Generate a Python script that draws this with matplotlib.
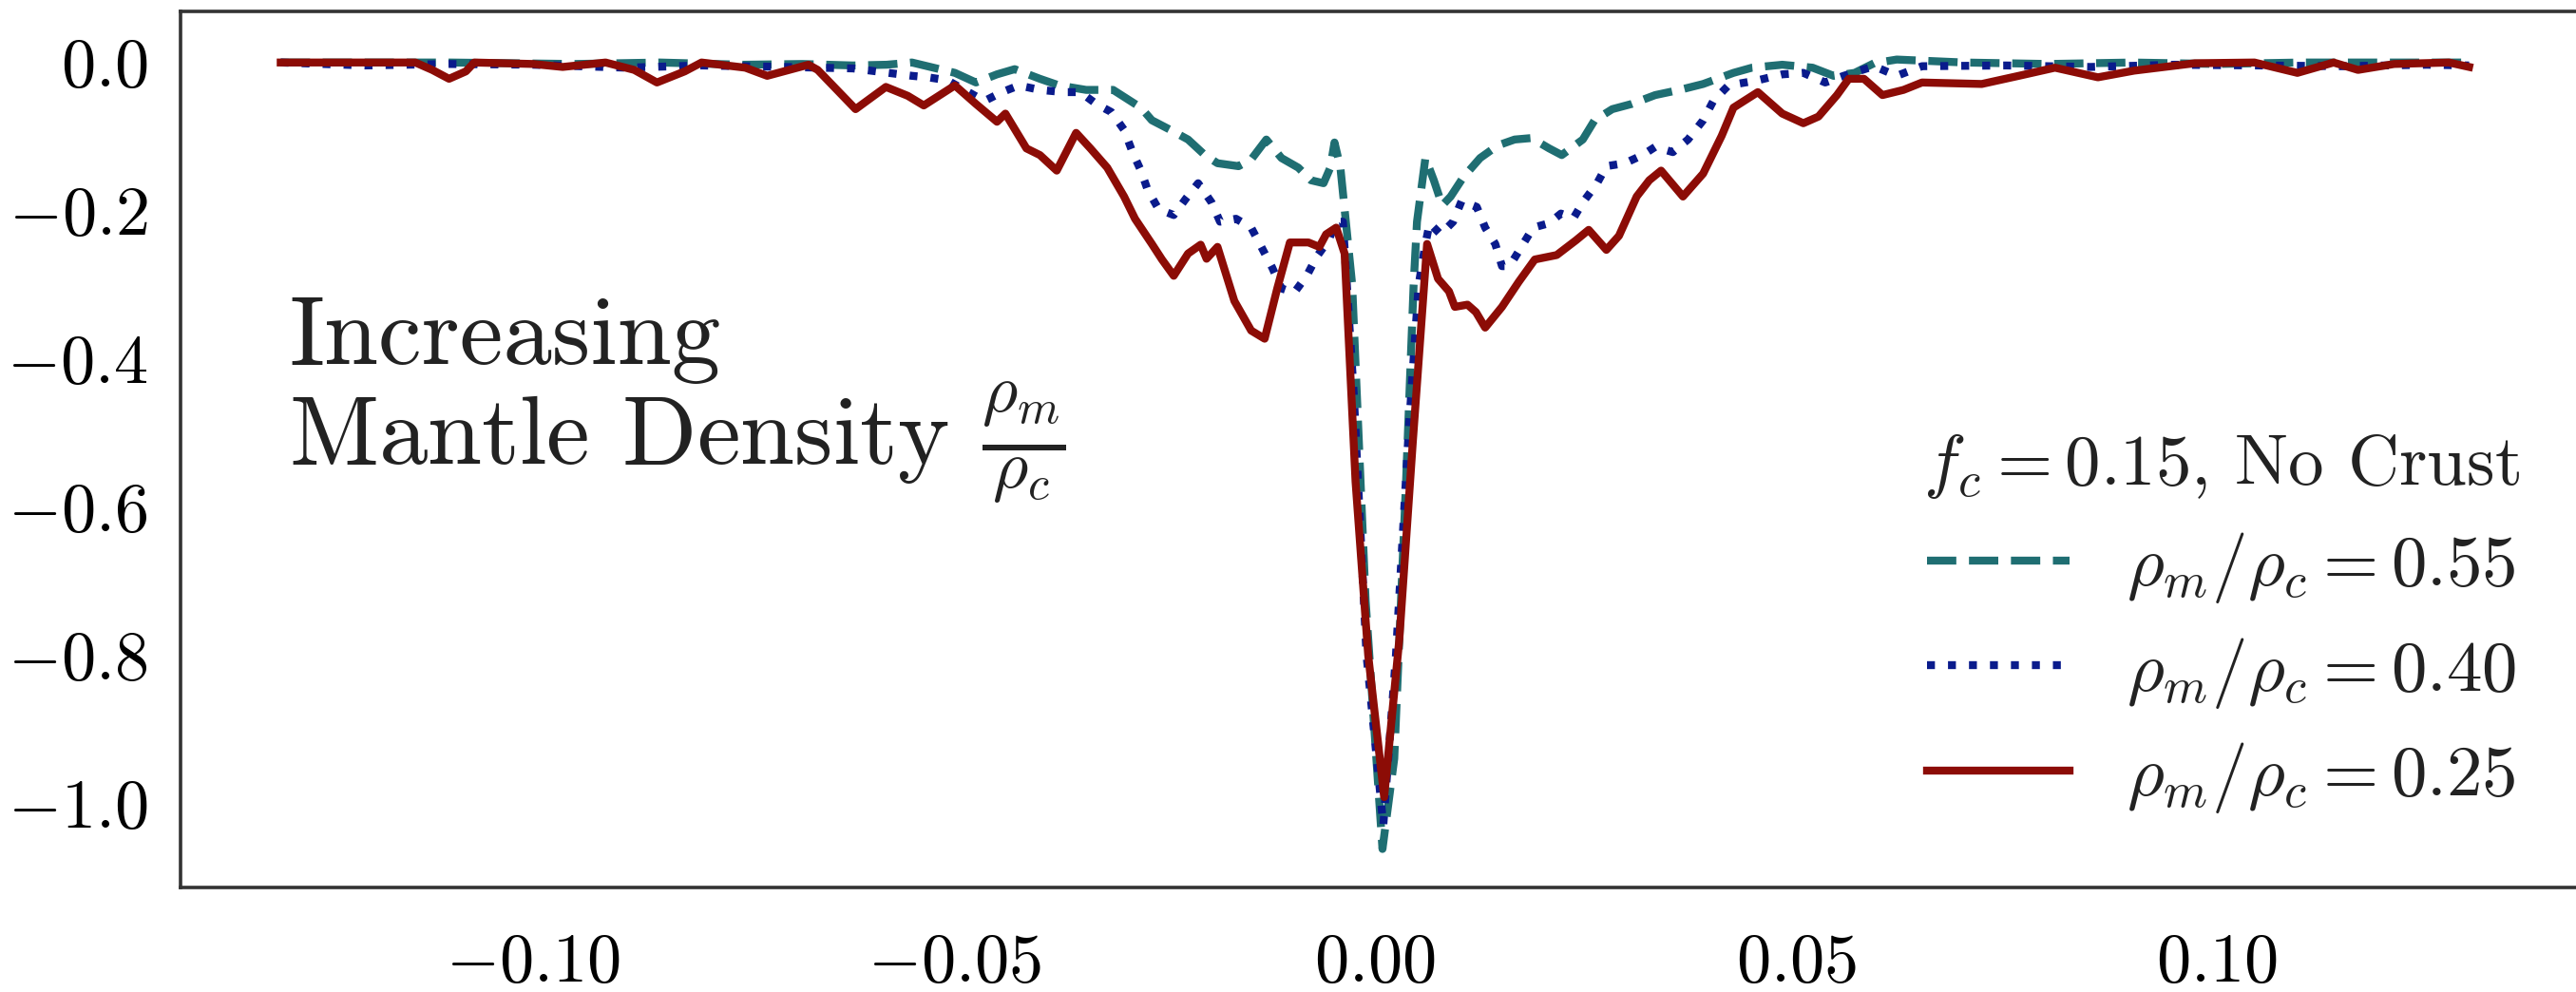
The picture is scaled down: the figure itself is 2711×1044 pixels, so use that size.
import matplotlib
matplotlib.use("Agg")
import matplotlib.pyplot as plt
from matplotlib import rcParams

config = {
    "font.family": "serif",
    "font.serif": ["cmr10"],
    "mathtext.fontset": "cm",
    "axes.formatter.use_mathtext": True,
    "axes.unicode_minus": True,
}
rcParams.update(config)

# rho_m / rho_c = 0.55 (dashed)
x_055 = [-0.130, -0.110, -0.095, -0.085, -0.075, -0.068, -0.062, -0.058, -0.055, -0.0499,
         -0.0474, -0.0449, -0.0428, -0.0398, -0.0375, -0.0343, -0.0311, -0.0278, -0.0265, -0.0243,
         -0.0222, -0.0202, -0.0187, -0.0162, -0.0147, -0.0129, -0.0111, -0.0091, -0.0076, -0.0061,
         -0.0053, -0.0048, -0.0041, -0.0036, -0.0027, -0.0011, 0.0009, 0.0023, 0.0037, 0.0046,
         0.0050, 0.0060, 0.0070, 0.0080, 0.0090, 0.0105, 0.0125, 0.0146, 0.0166, 0.0186,
         0.0207, 0.0222, 0.0247, 0.0261, 0.0282, 0.0305, 0.0333, 0.0362, 0.0390, 0.0426,
         0.0448, 0.0484, 0.0520, 0.0545, 0.0570, 0.0593, 0.0620, 0.0700, 0.0800, 0.0900,
         0.1000, 0.1100, 0.1200, 0.1300]
y_055 = [0.0, 0.0, -0.002, 0.0, -0.003, -0.002, -0.004, -0.003, 0.0, -0.014,
         -0.027, -0.016, -0.009, -0.022, -0.031, -0.037, -0.037, -0.061, -0.078, -0.091,
         -0.104, -0.125, -0.136, -0.140, -0.131, -0.104, -0.129, -0.142, -0.159, -0.163,
         -0.142, -0.108, -0.142, -0.198, -0.300, -0.727, -1.062, -0.940, -0.566, -0.300,
         -0.215, -0.129, -0.159, -0.193, -0.181, -0.155, -0.129, -0.112, -0.104, -0.102,
         -0.116, -0.125, -0.104, -0.078, -0.063, -0.056, -0.044, -0.037, -0.029, -0.014,
         -0.007, -0.003, -0.007, -0.018, -0.014, -0.001, 0.004, 0.0, -0.002, 0.0,
         -0.002, 0.0, 0.0, 0.0]

# rho_m / rho_c = 0.40 (dotted)
x_040 = [-0.130, -0.120, -0.110, -0.100, -0.089, -0.080, -0.070, -0.062, -0.055, -0.0531,
         -0.0508, -0.0464, -0.0443, -0.0423, -0.0398, -0.0370, -0.0350, -0.0331, -0.0313, -0.0298,
         -0.0288, -0.0278, -0.0270, -0.0257, -0.0239, -0.0224, -0.0210, -0.0194, -0.0184, -0.0165,
         -0.0147, -0.0134, -0.0122, -0.0111, -0.0096, -0.0081, -0.0069, -0.0055, -0.0046, -0.0038,
         -0.0025, -0.0010, 0.0010, 0.0025, 0.0040, 0.0052, 0.0060, 0.0065, 0.0078, 0.0093,
         0.0103, 0.0121, 0.0131, 0.0143, 0.0151, 0.0160, 0.0174, 0.0188, 0.0207, 0.0221,
         0.0236, 0.0247, 0.0264, 0.0275, 0.0297, 0.0318, 0.0333, 0.0354, 0.0372, 0.0390,
         0.0402, 0.0420, 0.0455, 0.0484, 0.0509, 0.0535, 0.0557, 0.0593, 0.0620, 0.0650,
         0.0750, 0.0850, 0.0950, 0.1050, 0.1150, 0.1250, 0.1300]
y_040 = [0.0, -0.004, -0.002, -0.003, -0.007, -0.004, -0.006, -0.008, -0.018, -0.020,
         -0.024, -0.052, -0.040, -0.031, -0.037, -0.040, -0.040, -0.056, -0.067, -0.091,
         -0.121, -0.146, -0.172, -0.198, -0.206, -0.183, -0.163, -0.189, -0.215, -0.211,
         -0.223, -0.251, -0.277, -0.305, -0.311, -0.288, -0.262, -0.240, -0.215, -0.215,
         -0.450, -0.800, -1.030, -0.800, -0.500, -0.300, -0.245, -0.217, -0.232, -0.215,
         -0.187, -0.195, -0.223, -0.245, -0.275, -0.275, -0.249, -0.223, -0.217, -0.204,
         -0.210, -0.189, -0.163, -0.140, -0.136, -0.125, -0.114, -0.121, -0.104, -0.078,
         -0.052, -0.031, -0.024, -0.016, -0.014, -0.027, -0.018, -0.005, -0.018, -0.005,
         -0.004, -0.006, -0.003, -0.004, -0.005, -0.003, -0.004]

# rho_m / rho_c = 0.25 (solid)
x_025 = [-0.130, -0.120, -0.114, -0.112, -0.110, -0.108, -0.107, -0.100, -0.0965, -0.0914,
         -0.088, -0.0853, -0.082, -0.080, -0.0748, -0.0722, -0.0673, -0.0662, -0.0617, -0.0581,
         -0.0555, -0.0536, -0.0499, -0.0474, -0.0449, -0.0439, -0.0414, -0.0398, -0.0378, -0.0355,
         -0.0338, -0.0318, -0.0298, -0.0285, -0.0265, -0.0253, -0.0239, -0.0222, -0.0207, -0.0200,
         -0.0187, -0.0167, -0.0147, -0.0131, -0.0116, -0.0101, -0.0079, -0.0066, -0.0058, -0.0046,
         -0.0036, -0.0023, -0.0008, 0.0011, 0.0029, 0.0045, 0.0062, 0.0075, 0.0088, 0.0095,
         0.0110, 0.0120, 0.0131, 0.0151, 0.0171, 0.0190, 0.0216, 0.0239, 0.0254, 0.0275,
         0.0290, 0.0311, 0.0326, 0.0340, 0.0366, 0.0390, 0.0412, 0.0426, 0.0455, 0.0484,
         0.0509, 0.0527, 0.0549, 0.0563, 0.0581, 0.0603, 0.0628, 0.0650, 0.0721, 0.0765,
         0.0808, 0.0859, 0.0902, 0.0974, 0.1045, 0.1096, 0.1139, 0.1168, 0.1211, 0.1276,
         0.1300]
y_025 = [0.0, 0.0, 0.0, -0.010, -0.022, -0.012, 0.0, -0.002, -0.006, 0.0,
         -0.010, -0.027, -0.012, 0.0, -0.007, -0.018, -0.003, -0.010, -0.063, -0.033,
         -0.045, -0.058, -0.031, -0.056, -0.080, -0.069, -0.116, -0.125, -0.146, -0.095,
         -0.116, -0.142, -0.181, -0.211, -0.245, -0.266, -0.288, -0.258, -0.246, -0.265,
         -0.249, -0.322, -0.362, -0.373, -0.305, -0.243, -0.243, -0.249, -0.232, -0.223,
         -0.258, -0.566, -0.800, -0.992, -0.779, -0.513, -0.245, -0.292, -0.309, -0.330,
         -0.327, -0.337, -0.358, -0.330, -0.296, -0.266, -0.260, -0.240, -0.226, -0.253,
         -0.234, -0.181, -0.159, -0.146, -0.181, -0.150, -0.099, -0.061, -0.040, -0.069,
         -0.082, -0.073, -0.044, -0.022, -0.022, -0.044, -0.037, -0.027, -0.029, -0.018,
         -0.007, -0.020, -0.011, -0.001, 0.0, -0.014, 0.0, -0.010, -0.002, 0.0,
         -0.006]

labels = [r"$\rho_m/\rho_c = 0.55$", r"$\rho_m/\rho_c = 0.40$", r"$\rho_m/\rho_c = 0.25$"]
c_teal = "#1f6e72"
c_navy = "#0a1b8c"
c_red = "#8c0c06"
line_width = 6

fig = plt.figure(figsize=(27.11, 10.44), dpi=100)
ax = fig.add_axes([190 / 2711, 110 / 1044, 2521 / 2711, 922 / 1044])

ax.plot(x_055, y_055, color=c_teal, linestyle="--", linewidth=line_width, label=labels[0])
ax.plot(x_040, y_040, color=c_navy, linestyle=":", linewidth=line_width, label=labels[1])
ax.plot(x_025, y_025, color=c_red, linestyle="-", linewidth=line_width, label=labels[2])

ax.set_xlim(-0.1419, 0.1427)
ax.set_ylim(-1.114, 0.069)
ax.set_xticks([-0.10, -0.05, 0.00, 0.05, 0.10])
ax.set_yticks([0.0, -0.2, -0.4, -0.6, -0.8, -1.0])
ax.tick_params(length=0, labelsize=52)
ax.tick_params(axis="y", pad=25)
ax.tick_params(axis="x", pad=35)

for side in ["left", "bottom", "top"]:
    ax.spines[side].set_color("#333333")
    ax.spines[side].set_linewidth(2.6)
ax.spines["right"].set_visible(False)

# annotation
ax.text(-0.1290, -0.407, "Increasing", fontsize=74, va="baseline", ha="left", color="#222222")
ax.text(-0.1290, -0.542, r"Mantle Density $\frac{\rho_m}{\rho_c}$", fontsize=74,
        va="baseline", ha="left", color="#222222")

leg = ax.legend(title=r"$f_c = 0.15$, No Crust", loc="lower right",
                bbox_to_anchor=(1.0035, 0.009), frameon=False, fontsize=54,
                title_fontsize=54, labelspacing=0.42, handlelength=2.0)
for t in leg.get_texts():
    t.set_color("#222222")
leg.get_title().set_color("#222222")

plt.savefig("out.png", dpi=100)
